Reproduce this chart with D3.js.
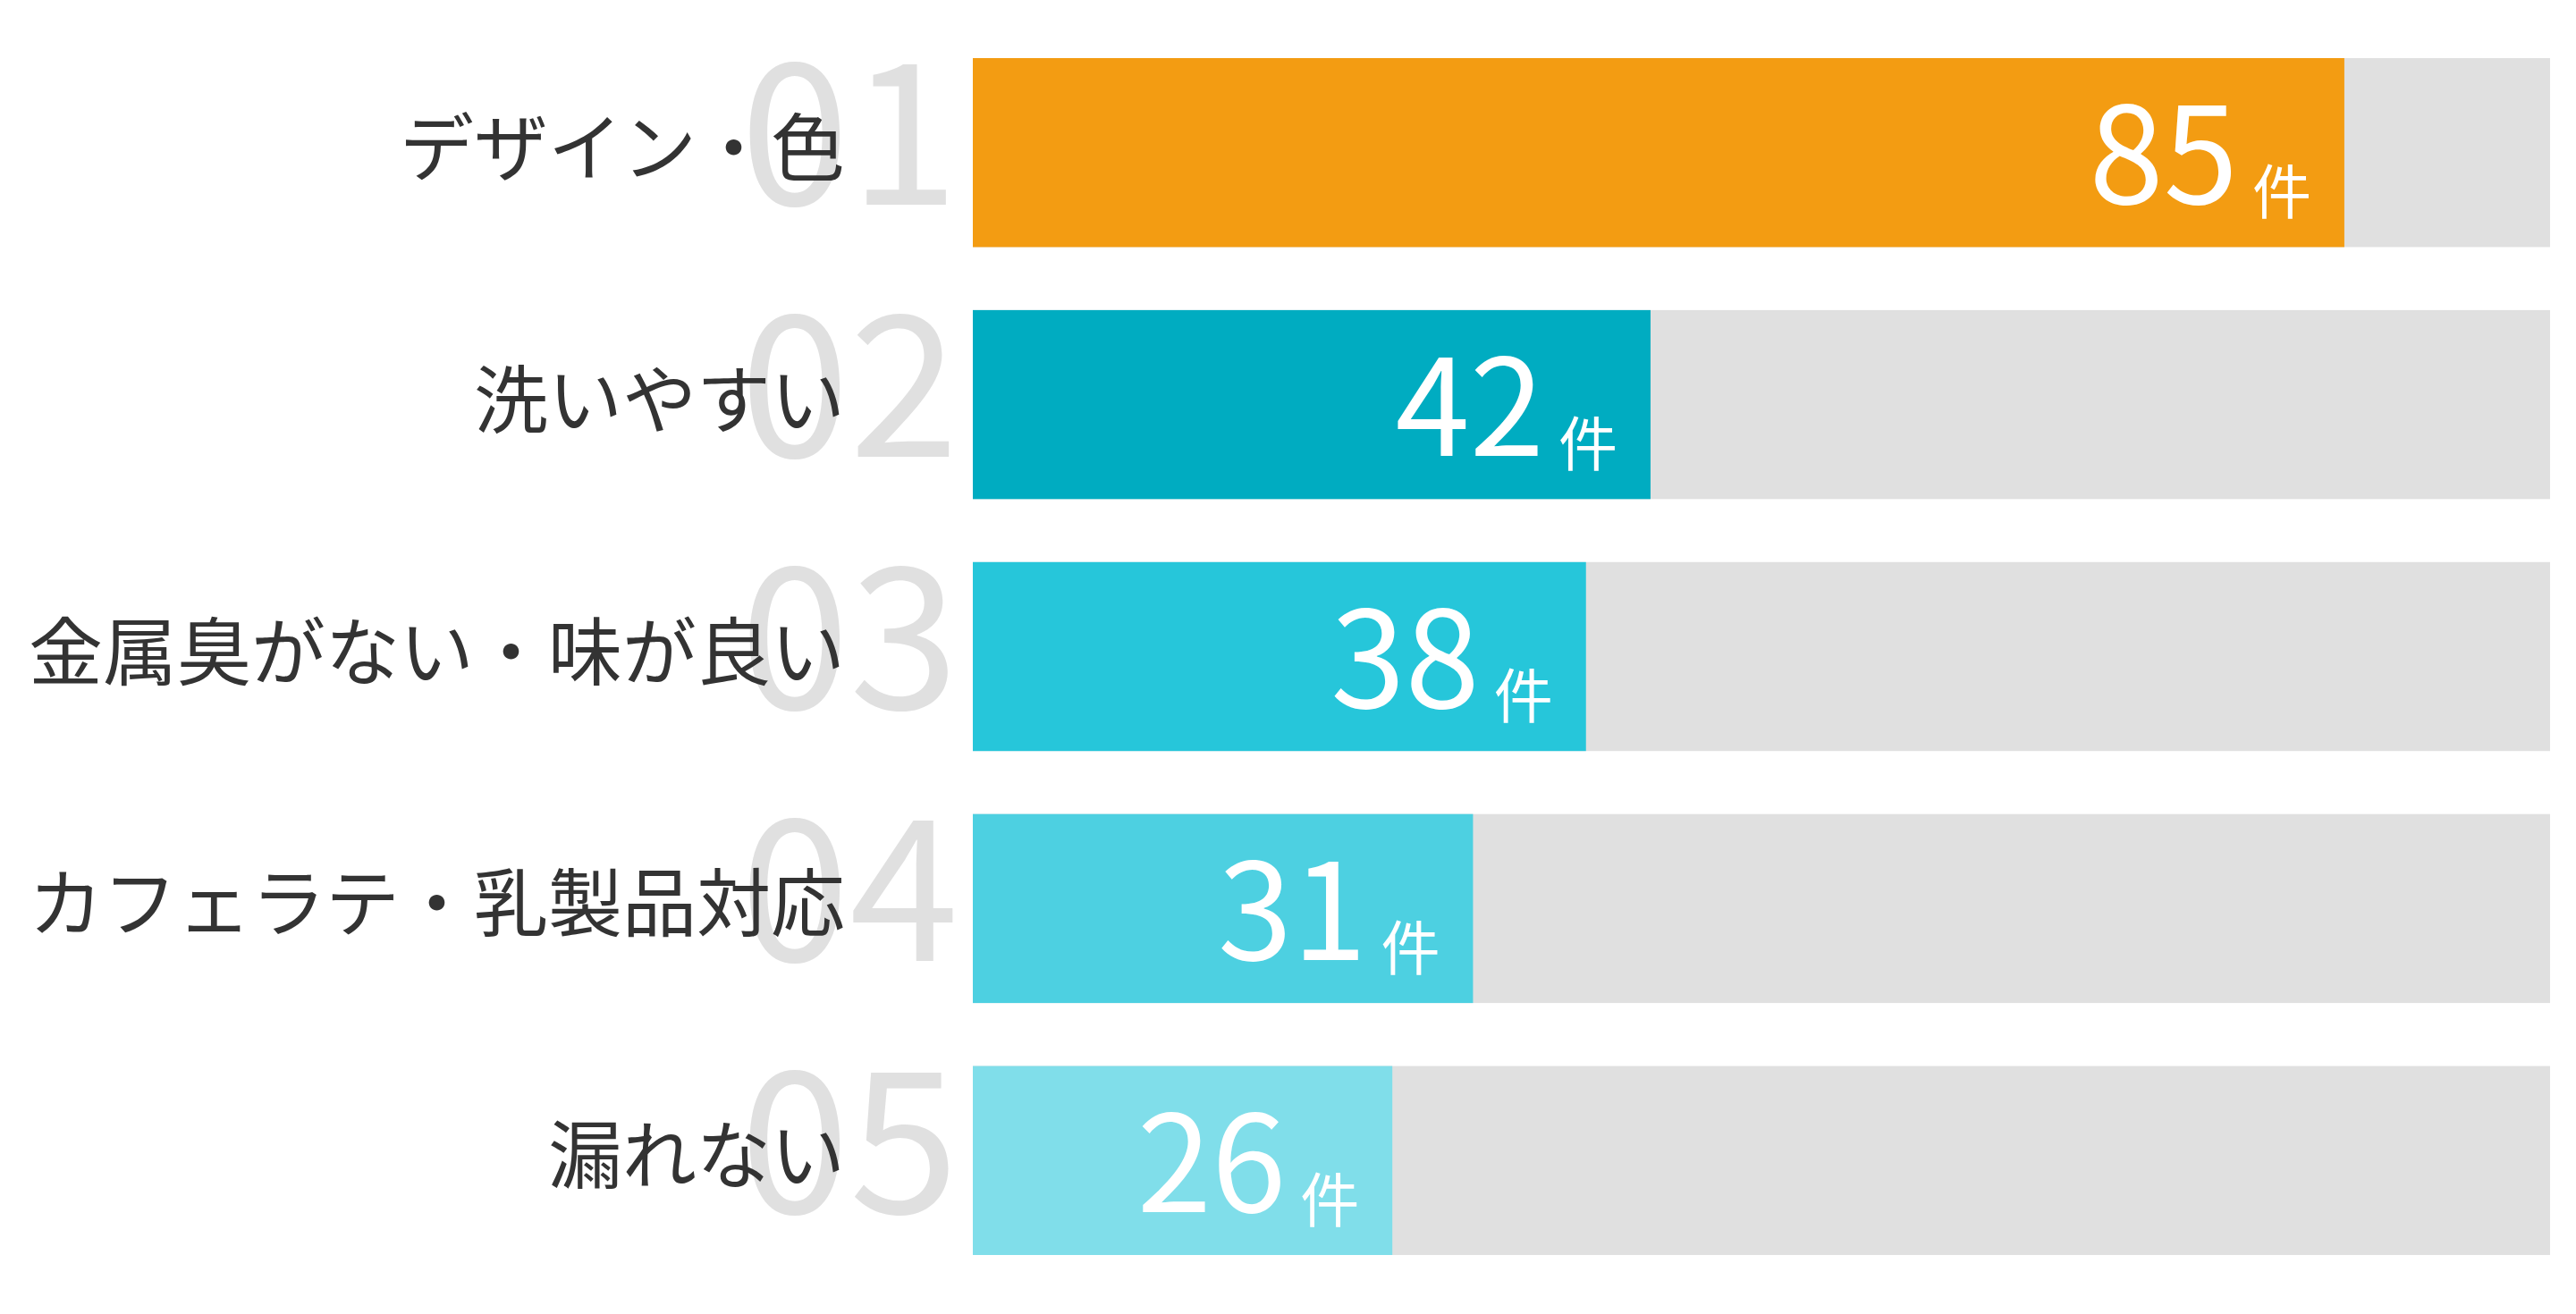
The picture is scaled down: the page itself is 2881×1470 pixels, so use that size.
<!DOCTYPE html>
<html>
<head>
<meta charset="utf-8">
<script src="https://cdn.jsdelivr.net/npm/d3@7"></script>
<style>
  html, body { margin: 0; padding: 0; background: #fff; }
  svg { display: block; }
</style>
</head>
<body>
<svg id="chart"></svg>
<script>
// Chart data
const ranks = ["01", "02", "03", "04", "05"];
const categories = ["デザイン・色", "洗いやすい", "金属臭がない・味が良い", "カフェラテ・乳製品対応", "漏れない"];
const counts = [85, 42, 38, 31, 26];
const unit = "件";

// Size of the picture
const width = 2881;
const height = 1470;

const svg = d3.select("#chart")
  .attr("width", width)
  .attr("height", height);

const rows = ranks.map((r, i) => ({ rank: r, label: categories[i], value: counts[i] }));

// Scales
const x = d3.scaleLinear()
  .domain([0, d3.max(counts) * 1.15])
  .range([1088, 2852]);

const y = d3.scaleBand()
  .domain(ranks)
  .range([65, 1404])
  .paddingInner(0.25)
  .paddingOuter(0);

const color = d3.scaleOrdinal()
  .domain(ranks)
  .range(["#f39c12", "#00acc1", "#26c6da", "#4dd0e1", "#80deea"]);

const jpFont = "'Noto Sans CJK JP', 'Noto Sans', sans-serif";

const row = svg.selectAll(".row")
  .data(rows)
  .enter()
  .append("g")
  .attr("class", "row");

// Big rank numbers behind the labels
row.append("text")
  .attr("class", "rank")
  .attr("x", x(0) - 16)
  .attr("y", d => y(d.rank) + y.bandwidth() - 47)
  .attr("text-anchor", "end")
  .attr("fill", "#e0e0e0")
  .style("font-family", jpFont)
  .style("font-size", "220px")
  .text(d => d.rank);

// Category labels
row.append("text")
  .attr("class", "label")
  .attr("x", 945)
  .attr("y", d => y(d.rank) + y.bandwidth() / 2 - 11)
  .attr("text-anchor", "end")
  .attr("dominant-baseline", "central")
  .attr("fill", "#333")
  .style("font-family", jpFont)
  .style("font-size", "83px")
  .text(d => d.label);

// Gray track
row.append("rect")
  .attr("class", "track")
  .attr("x", x(0))
  .attr("y", d => y(d.rank))
  .attr("width", x.range()[1] - x(0))
  .attr("height", y.bandwidth())
  .attr("fill", "#e0e0e0");

// Value bar
row.append("rect")
  .attr("class", "bar")
  .attr("x", x(0))
  .attr("y", d => y(d.rank))
  .attr("width", d => x(d.value) - x(0))
  .attr("height", y.bandwidth())
  .attr("fill", d => color(d.rank));

// Value labels inside the bar
const val = row.append("text")
  .attr("class", "value")
  .attr("x", d => x(d.value) - 37)
  .attr("y", d => y(d.rank) + 163)
  .attr("text-anchor", "end")
  .attr("fill", "#fff")
  .style("font-family", jpFont);

val.append("tspan")
  .style("font-size", "150px")
  .text(d => d.value);

val.append("tspan")
  .attr("dx", 16)
  .attr("dy", 11)
  .style("font-size", "66px")
  .text(unit);
</script>
</body>
</html>
